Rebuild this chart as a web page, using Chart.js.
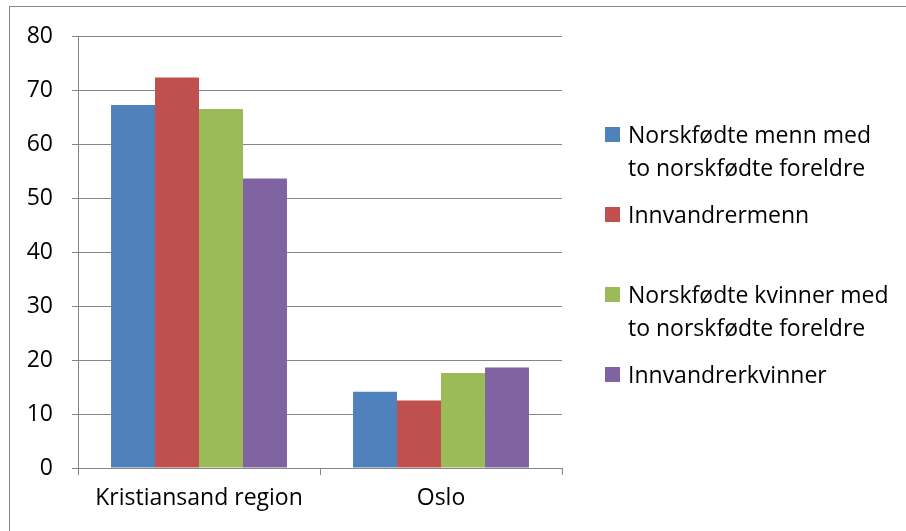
<!DOCTYPE html>
<html lang="no">
<head>
    <meta charset="UTF-8">
    <title>Norskfødte og innvandrere</title>
    <style>
        html, body {
            margin: 0;
            padding: 0;
            background: #fff;
        }
        #wrap {
            position: relative;
            width: 906px;
            height: 531px;
            overflow: hidden;
        }
        #frame {
            position: absolute;
            left: 9px;
            top: 6px;
            width: 900px;
            height: 540px;
            border-top: 1px solid #888;
            border-left: 1px solid #888;
        }
        canvas {
            position: absolute;
            left: 0;
            top: 0;
        }
        #legend {
            position: absolute;
            left: 605px;
            top: 118px;
            font-family: "Open Sans", sans-serif;
            font-size: 23px;
            color: #000;
        }
        .item {
            position: relative;
            height: 80px;
            padding-left: 23px;
            line-height: 33px;
        }
        .box {
            position: absolute;
            left: 0;
            top: 9px;
            width: 15px;
            height: 15px;
        }
    </style>
</head>
<body>
<div id="wrap">
    <div id="frame"></div>
    <canvas id="chart" width="906" height="531"></canvas>
    <div id="legend"></div>
</div>

<script src="https://cdn.jsdelivr.net/npm/chart.js"></script>
<script>
    // data
    const categories = ['Kristiansand region', 'Oslo'];
    const seriesNames = [
        ['Norskfødte menn med', 'to norskfødte foreldre'],
        ['Innvandrermenn'],
        ['Norskfødte kvinner med', 'to norskfødte foreldre'],
        ['Innvandrerkvinner']
    ];
    const menNative = [67.2, 14.1];
    const menImmigrant = [72.3, 12.5];
    const womenNative = [66.5, 17.6];
    const womenImmigrant = [53.6, 18.6];
    const colors = ['#4F81BD', '#C0504D', '#9BBB59', '#8064A2'];

    const values = [menNative, menImmigrant, womenNative, womenImmigrant];
    const gridColor = '#868686';
    const fontFamily = '"Open Sans", sans-serif';

    const ctx = document.getElementById('chart').getContext('2d');
    const chart = new Chart(ctx, {
        type: 'bar',
        data: {
            labels: categories,
            datasets: values.map((v, i) => ({
                label: seriesNames[i].join(' '),
                data: v,
                backgroundColor: colors[i],
                borderWidth: 0,
                categoryPercentage: 0.727,
                barPercentage: 1.0
            }))
        },
        options: {
            responsive: false,
            animation: false,
            layout: {
                padding: { top: 36, right: 344, left: 0, bottom: 0 }
            },
            plugins: {
                legend: { display: false },
                tooltip: { enabled: false }
            },
            scales: {
                x: {
                    grid: {
                        offset: true,
                        drawOnChartArea: false,
                        color: gridColor,
                        tickLength: 7
                    },
                    border: { color: gridColor, width: 1 },
                    ticks: {
                        color: '#000',
                        font: { family: fontFamily, size: 23 },
                        padding: 10
                    },
                    afterFit: scale => { scale.height = 63; }
                },
                y: {
                    min: 0,
                    max: 80,
                    ticks: {
                        stepSize: 10,
                        color: '#000',
                        font: { family: fontFamily, size: 23 },
                        padding: 19
                    },
                    grid: {
                        color: gridColor,
                        tickLength: 6
                    },
                    border: { color: gridColor, width: 1 },
                    afterFit: scale => { scale.width = 78; }
                }
            }
        }
    });

    // legend with wrapped text, like the original
    const legend = document.getElementById('legend');
    seriesNames.forEach((lines, i) => {
        const item = document.createElement('div');
        item.className = 'item';
        item.innerHTML = '<span class="box" style="background:' + colors[i] + '"></span>' +
            lines.map(l => '<div>' + l + '</div>').join('');
        legend.appendChild(item);
    });
</script>
</body>
</html>
